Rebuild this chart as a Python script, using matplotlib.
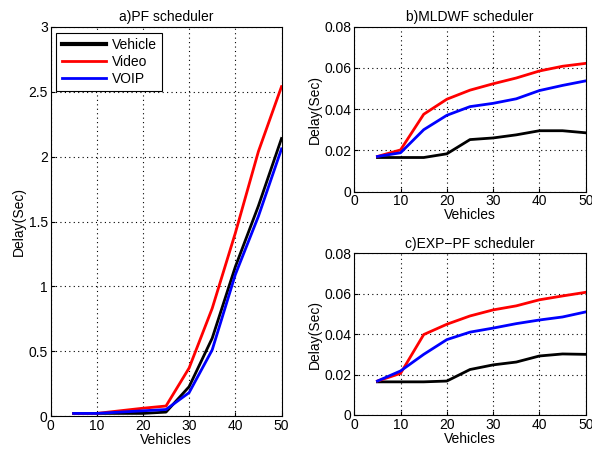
import matplotlib
matplotlib.use("Agg")
import matplotlib.pyplot as plt

plt.rcParams["font.family"] = ["Liberation Sans", "DejaVu Sans"]

vehicles = [5, 10, 15, 20, 25, 30, 35, 40, 45, 50]

pf_vehicle = [0.02, 0.02, 0.02, 0.02, 0.03, 0.226, 0.60, 1.15, 1.62, 2.14]
pf_video = [0.02, 0.02, 0.04, 0.06, 0.077, 0.37, 0.83, 1.41, 2.04, 2.54]
pf_voip = [0.02, 0.02, 0.03, 0.04, 0.05, 0.18, 0.51, 1.09, 1.54, 2.06]

ml_vehicle = [0.0165, 0.0165, 0.0165, 0.0183, 0.0252, 0.026, 0.0275, 0.0295, 0.0295, 0.0285]
ml_video = [0.017, 0.0202, 0.0375, 0.0448, 0.0492, 0.0523, 0.0551, 0.0585, 0.0608, 0.0622]
ml_voip = [0.017, 0.0188, 0.0300, 0.0370, 0.0412, 0.0428, 0.0450, 0.0490, 0.0515, 0.0537]

exp_vehicle = [0.0164, 0.0164, 0.0164, 0.0168, 0.0225, 0.0248, 0.0262, 0.0292, 0.0302, 0.0300]
exp_video = [0.0168, 0.0206, 0.0398, 0.0449, 0.0490, 0.0520, 0.0540, 0.0570, 0.0589, 0.0607]
exp_voip = [0.0168, 0.0218, 0.0300, 0.0373, 0.0410, 0.0430, 0.0452, 0.0470, 0.0485, 0.0510]

series_names = ["Vehicle", "Video", "VOIP"]
colors = ["black", "#ff0000", "#0000ff"]


def style(ax, title, ylim, yticks, yfmt):
    ax.set_xlim(0, 50)
    ax.set_ylim(*ylim)
    ax.set_xticks(range(0, 51, 10))
    ax.set_yticks(yticks)
    ax.set_yticklabels([yfmt(v) for v in yticks])
    ax.grid(True, linestyle=(0, (1, 3)), color="black", linewidth=0.8)
    ax.tick_params(direction="in", labelsize=10, length=3, pad=2)
    ax.set_xlabel("Vehicles", fontsize=10, labelpad=0)
    ax.set_ylabel("Delay(Sec)", fontsize=10, labelpad=2)
    ax.set_title(title, fontsize=10, pad=4)
    for s in ax.spines.values():
        s.set_linewidth(0.8)


fig = plt.figure(figsize=(5.92, 4.54), dpi=100)
ax1 = fig.add_axes([50.5 / 592, 1 - 416 / 454, 231 / 592, 389 / 454])
ax2 = fig.add_axes([354.3 / 592, 1 - 191.5 / 454, 231.4 / 592, 164.8 / 454])
ax3 = fig.add_axes([354.3 / 592, 1 - 415 / 454, 231.4 / 592, 161.7 / 454])

for ys, c, n in zip([pf_vehicle, pf_video, pf_voip], colors, series_names):
    ax1.plot(vehicles, ys, color=c, linewidth=2, label=n)
for ys, c in zip([ml_vehicle, ml_video, ml_voip], colors):
    ax2.plot(vehicles, ys, color=c, linewidth=2)
for ys, c in zip([exp_vehicle, exp_video, exp_voip], colors):
    ax3.plot(vehicles, ys, color=c, linewidth=2)

style(ax1, "a)PF scheduler", (0, 3), [0, 0.5, 1, 1.5, 2, 2.5, 3], lambda v: f"{v:g}")
style(ax2, "b)MLDWF scheduler", (0, 0.08), [0, 0.02, 0.04, 0.06, 0.08],
      lambda v: "0" if v == 0 else f"{v:.2f}")
style(ax3, "c)EXP\u2212PF scheduler", (0, 0.08), [0, 0.02, 0.04, 0.06, 0.08],
      lambda v: "0" if v == 0 else f"{v:.2f}")

leg = ax1.legend(loc="upper left", fontsize=10, fancybox=False, framealpha=1,
                 edgecolor="black", handlelength=3.2, borderaxespad=0.4,
                 labelspacing=0.2, handletextpad=0.4)
leg.get_frame().set_linewidth(0.8)
leg.legend_handles[0].set_linewidth(3)

fig.savefig("out.png", dpi=100, facecolor="white")
